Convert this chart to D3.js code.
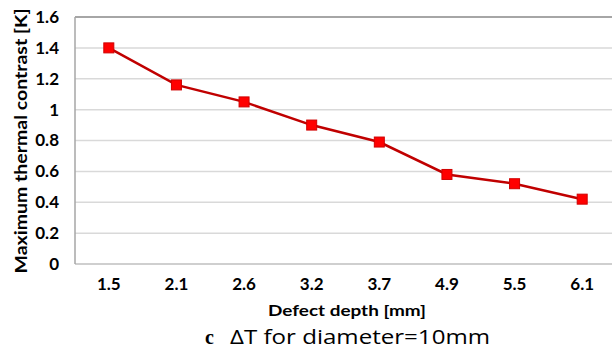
<!DOCTYPE html>
<html><head><meta charset="utf-8">
<script src="https://cdn.jsdelivr.net/npm/d3@7"></script>
<style>body{margin:0;background:#fff;}svg{display:block;}</style>
</head><body><svg id="c" width="612" height="353"></svg>
<script>
const categories = ["1.5","2.1","2.6","3.2","3.7","4.9","5.5","6.1"];
const values = [1.40,1.16,1.05,0.90,0.79,0.58,0.52,0.42];
const yTicks = [0,0.2,0.4,0.6,0.8,1,1.2,1.4,1.6];
const yTitle = "Maximum thermal contrast [K]";
const xTitle = "Defect depth [mm]";
const captionLetter = "c";
const captionText = "ΔT for diameter=10mm";

const svg = d3.select("#c");
const L = 75, R = 616, T = 17, B = 264;
const x = d3.scaleBand().domain(categories).range([L, R]);
const y = d3.scaleLinear().domain([0,1.6]).range([B, T]);
const font = "Lato, 'Noto Sans', sans-serif";

// gridlines
svg.append("g").selectAll("line").data(yTicks.filter(d=>d>0 && d<1.6)).join("line")
  .attr("x1", L).attr("x2", 612).attr("y1", d=>y(d)).attr("y2", d=>y(d))
  .attr("stroke", "#d9d9d9").attr("stroke-width", 1.5);
// borders
svg.append("line").attr("x1", L).attr("x2", 612).attr("y1", T).attr("y2", T).attr("stroke", "#a6a6a6").attr("stroke-width", 2);
svg.append("line").attr("x1", L).attr("x2", 612).attr("y1", B).attr("y2", B).attr("stroke", "#bfbfbf").attr("stroke-width", 1.5);
svg.append("line").attr("x1", L).attr("x2", L).attr("y1", T).attr("y2", B).attr("stroke", "#a6a6a6").attr("stroke-width", 1.5);

// y axis labels
const yAxis = d3.axisLeft(y).tickValues(yTicks).tickSize(0).tickPadding(0)
  .tickFormat(d => d3.format("")(+d.toFixed(1)));
const ya = svg.append("g").attr("transform", `translate(59,0)`).call(yAxis);
ya.select(".domain").remove();
ya.selectAll("text").attr("font-family", font).attr("font-weight", "bold").attr("font-size", 17).attr("fill", "#000");

// x axis labels
const xAxis = d3.axisBottom(x).tickSize(0).tickPadding(0);
const xa = svg.append("g").attr("transform", `translate(0,278)`).call(xAxis);
xa.select(".domain").remove();
xa.selectAll("text").attr("font-family", font).attr("font-weight", "bold").attr("font-size", 17).attr("fill", "#000");

// line
const line = d3.line().x((d,i)=>x(categories[i]) + x.bandwidth()/2).y(d=>y(d));
svg.append("path").datum(values).attr("d", line).attr("fill", "none")
  .attr("stroke", "#c00000").attr("stroke-width", 2.5);
svg.append("g").selectAll("rect").data(values).join("rect")
  .attr("x", (d,i)=>x(categories[i]) + x.bandwidth()/2 - 5)
  .attr("y", d=>y(d) - 5).attr("width", 10).attr("height", 10)
  .attr("fill", "#ff0000").attr("stroke", "#d00000").attr("stroke-width", 1);

// titles
svg.append("text").attr("transform", "translate(27,141) rotate(-90)")
  .attr("text-anchor", "middle").attr("font-family", font).attr("font-weight", "bold")
  .attr("font-size", 17).attr("textLength", 265).attr("lengthAdjust", "spacingAndGlyphs").text(yTitle);
svg.append("text").attr("x", 268).attr("y", 316)
  .attr("font-family", font).attr("font-weight", "bold").attr("font-size", 16)
  .attr("textLength", 158).attr("lengthAdjust", "spacingAndGlyphs").text(xTitle);
svg.append("text").attr("x", 205).attr("y", 344).attr("font-family", "'Liberation Serif', serif")
  .attr("font-weight", "bold").attr("font-size", 20).text(captionLetter);
svg.append("text").attr("x", 230).attr("y", 344).attr("font-family", "'Open Sans', 'Noto Sans', sans-serif")
  .attr("font-size", 20).attr("textLength", 260).attr("lengthAdjust", "spacingAndGlyphs").text(captionText);
</script></body></html>
